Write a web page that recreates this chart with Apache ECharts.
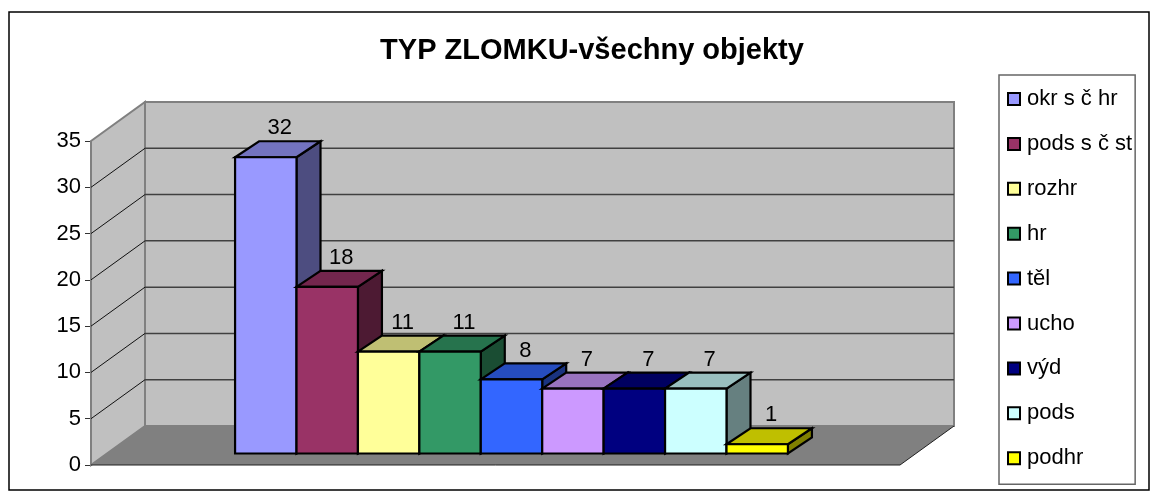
<!DOCTYPE html>
<html>
<head>
<meta charset="utf-8">
<title>TYP ZLOMKU</title>
<style>
  html, body { margin: 0; padding: 0; background: #fff; }
  #chart { width: 1161px; height: 499px; }
</style>
</head>
<body>
<div id="chart"></div>
<script src="https://cdn.jsdelivr.net/npm/echarts@6/dist/echarts.min.js"></script>
<script>
const seriesNames = ['okr s č hr', 'pods s č st', 'rozhr', 'hr', 'těl', 'ucho', 'výd', 'pods', 'podhr']
const seriesValues = [32, 18, 11, 11, 8, 7, 7, 7, 1]
const seriesColors = ['#9999FF', '#993366', '#FFFF99', '#339966', '#3366FF', '#CC99FF', '#000080', '#CCFFFF', '#FFFF00']
const yTicks = [0, 5, 10, 15, 20, 25, 30, 35]

const FONT = '"Liberation Sans", Arial, sans-serif'
// hloubka sten a sloupcu v pixelech
const WALL_DX = 54
const WALL_DY = 39
const BAR_SHIFT_X = 16
const BAR_SHIFT_Y = 11.5
const BAR_DX = 24
const BAR_DY = 16
const SIDE_GAP = 2.085

const chart = echarts.init(document.getElementById('chart'))

function shade(hex, k) {
  const n = parseInt(hex.slice(1), 16)
  const r = Math.round((n >> 16) * k)
  const g = Math.round(((n >> 8) & 255) * k)
  const b = Math.round((n & 255) * k)
  return `rgb(${r},${g},${b})`
}

function renderWalls(params, api) {
  const xMin = params.coordSys.x
  const xMax = xMin + params.coordSys.width
  const y0 = api.coord([0, 0])[1]
  const yTop = api.coord([0, 35])[1]
  const wallEdge = { stroke: '#808080', lineWidth: 2 }
  const children = [
    { type: 'polygon', shape: { points: [[xMin, yTop], [xMin + WALL_DX, yTop - WALL_DY], [xMin + WALL_DX, y0 - WALL_DY], [xMin, y0]] }, style: { fill: '#C0C0C0', ...wallEdge } },
    { type: 'rect', shape: { x: xMin + WALL_DX, y: yTop - WALL_DY, width: xMax - xMin, height: y0 - yTop }, style: { fill: '#C0C0C0', ...wallEdge } },
    { type: 'polygon', shape: { points: [[xMin, y0], [xMin + WALL_DX, y0 - WALL_DY], [xMax + WALL_DX, y0 - WALL_DY], [xMax, y0]] }, style: { fill: '#808080', stroke: 'none' } },
    { type: 'polyline', shape: { points: [[xMin, y0], [xMax, y0], [xMax + WALL_DX, y0 - WALL_DY]] }, style: { fill: 'none', stroke: '#202020', lineWidth: 1 } }
  ]
  yTicks.slice(1, -1).forEach(t => {
    const y = api.coord([0, t])[1]
    children.push({
      type: 'line',
      shape: { x1: xMin, y1: y, x2: xMin + WALL_DX, y2: y - WALL_DY },
      style: { stroke: '#111', lineWidth: 1 }
    }, {
      type: 'line',
      shape: { x1: xMin + WALL_DX, y1: y - WALL_DY, x2: xMax + WALL_DX, y2: y - WALL_DY },
      style: { stroke: '#404040', lineWidth: 1.5 }
    })
  })
  return { type: 'group', children }
}

function renderBar(params, api) {
  const i = api.value(0)
  const color = seriesColors[i]
  const bl = api.coord([i, 0])
  const tr = api.coord([i + 1, api.value(1)])
  const x1 = bl[0] + BAR_SHIFT_X
  const x2 = tr[0] + BAR_SHIFT_X
  const y1 = bl[1] - BAR_SHIFT_Y
  const y2 = tr[1] - BAR_SHIFT_Y
  const line = { stroke: '#000', lineWidth: 2.2, lineJoin: 'miter' }
  return {
    type: 'group',
    children: [
      { type: 'polygon', shape: { points: [[x2, y2], [x2 + BAR_DX, y2 - BAR_DY], [x2 + BAR_DX, y1 - BAR_DY], [x2, y1]] }, style: { fill: shade(color, 0.5), ...line } },
      { type: 'polygon', shape: { points: [[x1, y2], [x1 + BAR_DX, y2 - BAR_DY], [x2 + BAR_DX, y2 - BAR_DY], [x2, y2]] }, style: { fill: shade(color, 0.75), ...line } },
      { type: 'rect', shape: { x: x1, y: y2, width: x2 - x1, height: y1 - y2 }, style: { fill: color, ...line } },
      {
        type: 'text',
        x: (x1 + x2) / 2 + BAR_DX * 0.58,
        y: y2 - BAR_DY - 13,
        style: { text: String(api.value(1)), fill: '#000', font: '22px ' + FONT, align: 'center', verticalAlign: 'middle' }
      }
    ]
  }
}

const barSeries = seriesNames.map((name, i) => ({
  name,
  type: 'custom',
  renderItem: renderBar,
  clip: false,
  z: 5 + i,
  itemStyle: { color: seriesColors[i] },
  data: [[i, seriesValues[i]]],
  encode: { x: 0, y: 1 }
}))

chart.setOption({
  animation: false,
  backgroundColor: '#fff',
  title: {
    text: 'TYP ZLOMKU-všechny objekty',
    left: 587,
    top: 31,
    textAlign: 'center',
    textStyle: { fontFamily: FONT, fontSize: 29, fontWeight: 'bold', color: '#000' }
  },
  grid: { left: 91, top: 141, width: 809, height: 324 },
  xAxis: { type: 'value', min: -SIDE_GAP, max: seriesValues.length + SIDE_GAP, show: false },
  yAxis: {
    type: 'value',
    min: 0,
    max: 35,
    interval: 5,
    axisLine: { show: false, onZero: false },
    axisTick: { show: true, length: 6, lineStyle: { color: '#333', width: 1 } },
    axisLabel: { fontFamily: FONT, fontSize: 22, color: '#000', margin: 10, padding: [4, 0, 0, 0] },
    splitLine: { show: false }
  },
  legend: {
    orient: 'vertical',
    left: 999,
    top: 75,
    padding: [13, 3, 15, 8],
    itemWidth: 12,
    itemHeight: 12,
    itemGap: 22.9,
    icon: 'rect',
    borderColor: '#666',
    borderWidth: 1.5,
    textStyle: { fontFamily: FONT, fontSize: 22, color: '#000', padding: [0, 0, 0, 2] },
    itemStyle: { borderColor: '#000', borderWidth: 2 },
    data: seriesNames,
    selectedMode: false
  },
  graphic: [{
    type: 'rect',
    silent: true,
    z: -1,
    shape: { x: 9, y: 12, width: 1140, height: 478 },
    style: { fill: '#fff', stroke: '#000', lineWidth: 1.5 }
  }],
  series: [{
    name: 'steny',
    type: 'custom',
    renderItem: renderWalls,
    clip: false,
    z: 2,
    silent: true,
    data: [[0, 0]]
  }, ...barSeries]
})
</script>
</body>
</html>
